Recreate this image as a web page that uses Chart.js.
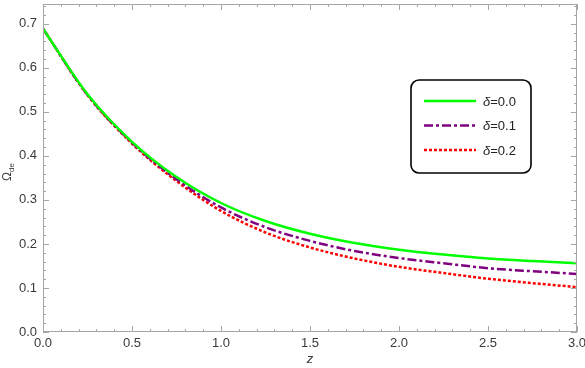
<!DOCTYPE html>
<html>
<head>
<meta charset="utf-8">
<script src="https://cdn.jsdelivr.net/npm/chart.js@4"></script>
<style>
  body { margin: 0; background: #fff; }
  #wrap { width: 585px; height: 368px; }
</style>
</head>
<body>
<div id="wrap"><canvas id="omegaChart"></canvas></div>
<script>
// values
const zValues = [0, 0.25, 0.5, 0.75, 1.0, 1.25, 1.5, 1.75, 2.0, 2.25, 2.5, 2.75, 3.0];
const omegaDelta00 = [0.689, 0.540, 0.432, 0.352, 0.293, 0.252, 0.223, 0.202, 0.187, 0.176, 0.167, 0.161, 0.156];
const omegaDelta01 = [0.689, 0.539, 0.430, 0.347, 0.283, 0.238, 0.207, 0.184, 0.168, 0.156, 0.145, 0.138, 0.132];
const omegaDelta02 = [0.689, 0.538, 0.428, 0.343, 0.275, 0.226, 0.192, 0.167, 0.148, 0.134, 0.121, 0.111, 0.102];
const seriesLabels = ['δ=0.0', 'δ=0.1', 'δ=0.2'];
const xTicks = [0, 0.5, 1.0, 1.5, 2.0, 2.5, 3.0];
const yTicks = [0, 0.1, 0.2, 0.3, 0.4, 0.5, 0.6, 0.7];

const frameColor = '#a6a6a6';
const labelColor = '#3a3a3a';
const fontFamily = '"Liberation Sans", Arial, sans-serif';

function toPoints(arr) {
    return zValues.map((z, i) => ({ x: z, y: arr[i] }));
}

// frame, inward ticks, y title and the boxed legend
const framePlugin = {
    id: 'framePlugin',
    afterDraw(chart) {
        const ctx = chart.ctx;
        const a = chart.chartArea;
        const xs = chart.scales.x;
        const ys = chart.scales.y;
        ctx.save();
        ctx.strokeStyle = frameColor;
        ctx.lineWidth = 1;
        ctx.strokeRect(a.left + 0.5, a.top + 0.5, a.right - a.left - 1, a.bottom - a.top - 1);

        // x ticks: major every 0.5, minor every 0.1
        for (let i = 0; i <= 30; i++) {
            const px = Math.round(xs.getPixelForValue(i / 10)) + 0.5;
            const len = i % 5 === 0 ? 6 : 3;
            ctx.beginPath();
            ctx.moveTo(px, a.bottom); ctx.lineTo(px, a.bottom - len);
            ctx.moveTo(px, a.top); ctx.lineTo(px, a.top + len);
            ctx.stroke();
        }
        // y ticks: major every 0.1, minor every 0.02
        for (let i = 0; i <= 37; i++) {
            const py = Math.round(ys.getPixelForValue(i / 50)) + 0.5;
            const len = i % 5 === 0 ? 6 : 3;
            ctx.beginPath();
            ctx.moveTo(a.left, py); ctx.lineTo(a.left + len, py);
            ctx.moveTo(a.right, py); ctx.lineTo(a.right - len, py);
            ctx.stroke();
        }

        // y axis title Ω_de
        ctx.fillStyle = labelColor;
        ctx.translate(11, (a.top + a.bottom) / 2 + 4);
        ctx.rotate(-Math.PI / 2);
        ctx.textBaseline = 'alphabetic';
        ctx.textAlign = 'left';
        ctx.font = '12px ' + fontFamily;
        ctx.fillText('Ω', -9, 0);
        const w = ctx.measureText('Ω').width;
        ctx.font = '8px ' + fontFamily;
        ctx.fillText('de', -9 + w, 3);
        ctx.restore();

        // legend box
        const bx = 411, by = 80, bw = 120, bh = 93;
        ctx.save();
        ctx.strokeStyle = '#000';
        ctx.lineWidth = 1.6;
        ctx.fillStyle = '#fff';
        ctx.beginPath();
        ctx.roundRect(bx, by, bw, bh, 8);
        ctx.fill();
        ctx.stroke();
        chart.data.datasets.forEach((ds, i) => {
            const ly = by + 21 + i * 24.5;
            ctx.strokeStyle = ds.borderColor;
            ctx.lineWidth = ds.borderWidth;
            ctx.setLineDash(ds.borderDash || []);
            ctx.beginPath();
            ctx.moveTo(bx + 13, ly);
            ctx.lineTo(bx + 65, ly);
            ctx.stroke();
            ctx.setLineDash([]);
            ctx.fillStyle = '#222';
            ctx.textBaseline = 'middle';
            ctx.font = 'italic 13px ' + fontFamily;
            ctx.fillText('δ', bx + 72, ly + 1);
            const dw = ctx.measureText('δ').width;
            ctx.font = '13px ' + fontFamily;
            ctx.fillText(ds.label.slice(1), bx + 72 + dw, ly + 1);
        });
        ctx.restore();
    }
};

const ctx = document.getElementById('omegaChart').getContext('2d');
const omegaChart = new Chart(ctx, {
    type: 'line',
    data: {
        datasets: [{
            label: seriesLabels[0],
            data: toPoints(omegaDelta00),
            borderColor: '#00ff00',
            borderWidth: 2.5
        }, {
            label: seriesLabels[1],
            data: toPoints(omegaDelta01),
            borderColor: '#800080',
            borderWidth: 2.5,
            borderDash: [9, 3, 3, 3]
        }, {
            label: seriesLabels[2],
            data: toPoints(omegaDelta02),
            borderColor: '#ff0000',
            borderWidth: 2.5,
            borderDash: [3, 2]
        }]
    },
    options: {
        responsive: true,
        maintainAspectRatio: false,
        animation: false,
        layout: { padding: { top: 4, right: 8, left: 0, bottom: 0 } },
        elements: {
            point: { radius: 0 },
            line: { cubicInterpolationMode: 'monotone', fill: false }
        },
        plugins: {
            legend: { display: false },
            tooltip: { enabled: false }
        },
        scales: {
            x: {
                type: 'linear',
                min: 0,
                max: 3,
                afterBuildTicks: (scale) => { scale.ticks = xTicks.map(v => ({ value: v })); },
                afterFit: (scale) => {
                    scale.height = 36;
                    scale.paddingLeft = 0;
                    scale.paddingRight = 0;
                },
                grid: { display: false, drawTicks: false },
                border: { display: false },
                ticks: {
                    color: labelColor,
                    font: { family: fontFamily, size: 13 },
                    padding: 4,
                    maxRotation: 0,
                    callback: (v) => v.toFixed(1)
                },
                title: {
                    display: true,
                    text: 'z',
                    color: labelColor,
                    font: { family: fontFamily, size: 13, style: 'italic' },
                    padding: { top: 0, bottom: 1 }
                }
            },
            y: {
                type: 'linear',
                min: 0,
                max: 0.745,
                afterBuildTicks: (scale) => { scale.ticks = yTicks.map(v => ({ value: v })); },
                afterFit: (scale) => {
                    scale.width = 43;
                    scale.paddingTop = 0;
                    scale.paddingBottom = 0;
                },
                grid: { display: false, drawTicks: false },
                border: { display: false },
                ticks: {
                    color: labelColor,
                    font: { family: fontFamily, size: 13 },
                    padding: 6,
                    callback: (v) => v.toFixed(1)
                }
            }
        }
    },
    plugins: [framePlugin]
});
</script>
</body>
</html>
